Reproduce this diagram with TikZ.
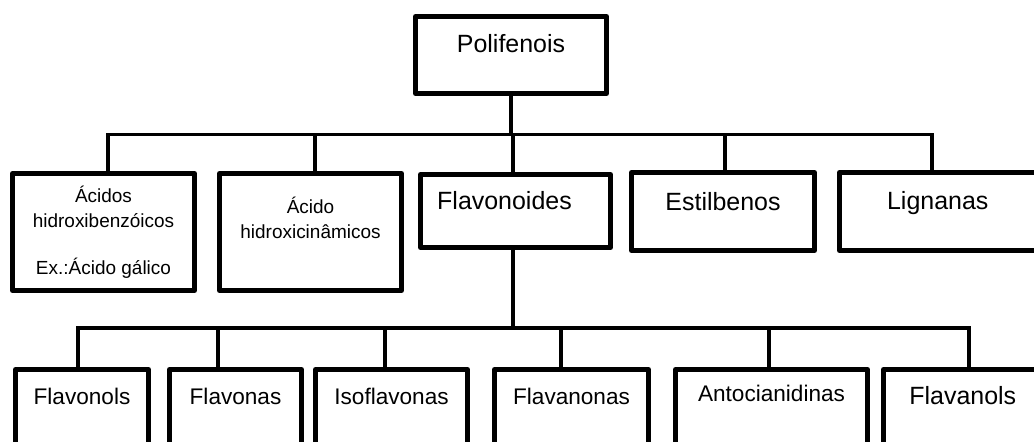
\documentclass[tikz,border=0pt]{standalone}
\usepackage{fontspec}
\setmainfont{Liberation Sans}

\begin{document}
\begin{tikzpicture}[
    box/.style={draw, line width=0.1cm, line join=round, inner xsep=0pt, inner ysep=0pt, outer sep=0pt, anchor=north},
    head/.style={font=\fontsize{14.2}{17}\selectfont},
    small/.style={font=\fontsize{10.8}{14.7}\selectfont},
    leaf/.style={font=\fontsize{12.85}{15}\selectfont, text height=0.69cm, text depth=1.12cm},
    link/.style={line width=0.07cm}
]

    \useasboundingbox (0,0) rectangle (20.68,-8.82);
    \clip (0,0) rectangle (20.68,-8.82);

    % Nodes
    \node[box, head, minimum width=3.82cm, text height=0.71cm, text depth=0.83cm] (poli) at (10.22,-0.33) {Polifenois};

    \node[box, small, minimum width=3.64cm, text height=0.57cm, text depth=1.77cm] (acbenz) at (2.07,-3.47)
        {\begin{tabular}[t]{@{}c@{}}Ácidos\\hidroxibenzóicos\\[11.9pt]Ex.:Ácido gálico\end{tabular}};
    \node[box, small, minimum width=3.64cm, text height=0.79cm, text depth=1.55cm] (accin) at (6.21,-3.47)
        {\begin{tabular}[t]{@{}c@{}}Ácido\\hidroxicinâmicos\end{tabular}};
    \node[box, head, minimum width=3.80cm, text height=0.69cm, text depth=0.77cm] (flavo) at (10.31,-3.49) {Flavonoides\hspace*{0.44cm}};
    \node[box, head, minimum width=3.66cm, text height=0.75cm, text depth=0.81cm] (estil) at (14.46,-3.45) {Estilbenos};
    \node[box, head, minimum width=3.93cm, text height=0.73cm, text depth=0.83cm] (lign) at (18.755,-3.45) {Lignanas};

    \node[box, leaf, minimum width=2.66cm] (flavonols) at (1.64,-7.39) {Flavonols};
    \node[box, leaf, minimum width=2.64cm] (flavonas) at (4.71,-7.39) {Flavonas};
    \node[box, leaf, minimum width=3.04cm] (isoflav) at (7.83,-7.39) {Isoflavonas};
    \node[box, leaf, minimum width=3.08cm] (flavanon) at (11.43,-7.39) {Flavanonas};
    \node[box, leaf, minimum width=3.84cm, text height=0.63cm, text depth=1.18cm] (antoc) at (15.43,-7.39) {Antocianidinas};
    \node[box, leaf, head, minimum width=3.17cm] (flavanol) at (19.255,-7.39) {Flavanols};

    % Bars
    \coordinate (hubone) at (0,-2.69);
    \coordinate (hubtwo) at (0,-6.56);

    % Connectors: Polifenois -> classes
    \draw[link] (poli.south) -- (poli.south |- hubone);
    \draw[link] ([xshift=0.09cm]acbenz.north) |- ([xshift=-0.115cm]lign.north |- hubone) -- ([xshift=-0.115cm]lign.north);
    \foreach \n/\dx in {accin/0.09, flavo/-0.05, estil/0.04}
        \draw[link] ([xshift=\dx cm]\n.north) -- ([xshift=\dx cm]\n.north |- hubone);

    % Connectors: Flavonoides -> subclasses
    \draw[link] ([xshift=-0.05cm]flavo.south) -- ([xshift=-0.05cm]flavo.south |- hubtwo);
    \draw[link] ([xshift=-0.08cm]flavonols.north) |- ([xshift=0.125cm]flavanol.north |- hubtwo) -- ([xshift=0.125cm]flavanol.north);
    \foreach \n/\dx in {flavonas/-0.35, isoflav/-0.13, flavanon/-0.21, antoc/-0.05}
        \draw[link] ([xshift=\dx cm]\n.north) -- ([xshift=\dx cm]\n.north |- hubtwo);
\end{tikzpicture}
\end{document}
